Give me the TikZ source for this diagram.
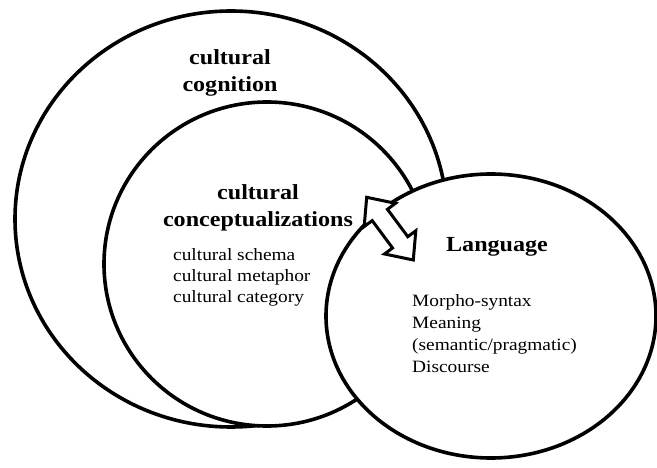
\documentclass[tikz,border=0pt]{standalone}
\usepackage{fontspec}
\setmainfont{Liberation Serif}[FakeStretch=1.12]
\usetikzlibrary{shapes.geometric,calc}
\begin{document}
\begin{tikzpicture}[x=1pt,y=-1pt,
  ring/.style={ellipse, draw=black, line width=3.6pt, fill=white, inner sep=0pt},
  head/.style={font=\fontsize{21.5}{26}\selectfont\bfseries, inner sep=0pt, anchor=base},
  item/.style={font=\fontsize{17.3}{22}\selectfont, inner sep=0pt, anchor=base west},
  dblarrow/.style={draw=black, line width=3pt, fill=white, line join=miter}]
\useasboundingbox (0,0) rectangle (657,468);
\node[ring, minimum width=432pt, minimum height=416pt] (cog) at (231,219) {};
\node[ring, minimum width=326pt, minimum height=324pt] (conc) at (267,264) {};
\node[ring, minimum width=330pt, minimum height=284pt] (lang) at (491,316) {};
\coordinate (t1) at (366.7,197.3);
\coordinate (t2) at (413.3,260);
\coordinate (b1) at ($(t1)!22pt!(t2)$);
\coordinate (b2) at ($(t2)!22pt!(t1)$);
\draw[dblarrow] (t1) -- ($(b1)!19.5pt!90:(t2)$) -- ($(b1)!9.5pt!90:(t2)$)
  -- ($(b2)!9.5pt!-90:(t1)$) -- ($(b2)!19.5pt!-90:(t1)$) -- (t2)
  -- ($(b2)!19.5pt!90:(t1)$) -- ($(b2)!9.5pt!90:(t1)$)
  -- ($(b1)!9.5pt!-90:(t2)$) -- ($(b1)!19.5pt!-90:(t2)$) -- cycle;
\node[head] (cc1) at (230,65) {cultural};
\node[head] (cc2) at (230,92) {cognition};
\node[head] (cz1) at (258,200) {cultural};
\node[head] (cz2) at (258,227) {conceptualizations};
\node[item] (i1) at (173,261) {cultural schema};
\node[item] (i2) at (173,282) {cultural metaphor};
\node[item] (i3) at (173,303) {cultural category};
\node[head] (lg) at (497,252) {Language};
\node[item] (l1) at (412,306) {Morpho-syntax};
\node[item] (l2) at (412,328) {Meaning};
\node[item] (l3) at (412,350) {(semantic/pragmatic)};
\node[item] (l4) at (412,372) {Discourse};
\end{tikzpicture}
\end{document}
